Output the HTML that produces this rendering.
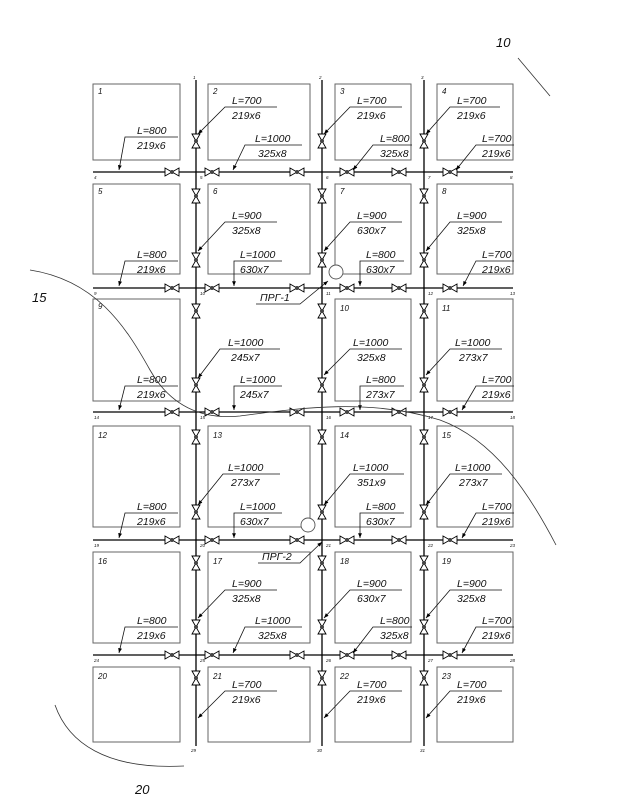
<!DOCTYPE html>
<html><head><meta charset="utf-8"><style>
html,body{margin:0;padding:0;background:#fff}
svg{display:block}
text{font-family:"Liberation Sans",sans-serif;font-style:italic;fill:#111}
.t{font-size:10.5px}
.n{font-size:8px}
.s{font-size:4.5px;fill:#444}
.b{fill:none;stroke:#666;stroke-width:1}
.p{stroke:#000;stroke-width:1.3}
.l{stroke:#111;stroke-width:0.8;fill:none}
</style></head><body>
<svg width="618" height="809" viewBox="0 0 618 809" xmlns="http://www.w3.org/2000/svg">
<defs>
<marker id="a" viewBox="0 0 10 10" refX="10" refY="5" markerWidth="6" markerHeight="6" orient="auto"><path d="M0 1L10 5L0 9z" fill="#000"/></marker>
<g id="vh"><path d="M-7 -4L7 4L7 -4L-7 4Z" fill="#fff" stroke="#000" stroke-width="0.9"/><circle r="2" fill="#444"/></g>
<g id="vv"><path d="M-4 -7L4 7L-4 7L4 -7Z" fill="#fff" stroke="#000" stroke-width="0.9"/><circle r="2" fill="#444"/></g>
</defs>
<!-- blocks -->
<g class="b">
<rect x="93" y="84" width="87" height="76"/><rect x="208" y="84" width="102" height="76"/><rect x="335" y="84" width="76" height="76"/><rect x="437" y="84" width="76" height="76"/>
<rect x="93" y="184" width="87" height="90"/><rect x="208" y="184" width="102" height="90"/><rect x="335" y="184" width="76" height="90"/><rect x="437" y="184" width="76" height="90"/>
<rect x="93" y="299" width="87" height="102"/><rect x="335" y="299" width="76" height="102"/><rect x="437" y="299" width="76" height="102"/>
<rect x="93" y="426" width="87" height="101"/><rect x="208" y="426" width="102" height="101"/><rect x="335" y="426" width="76" height="101"/><rect x="437" y="426" width="76" height="101"/>
<rect x="93" y="552" width="87" height="91"/><rect x="208" y="552" width="102" height="91"/><rect x="335" y="552" width="76" height="91"/><rect x="437" y="552" width="76" height="91"/>
<rect x="93" y="667" width="87" height="75"/><rect x="208" y="667" width="102" height="75"/><rect x="335" y="667" width="76" height="75"/><rect x="437" y="667" width="76" height="75"/>
</g>
<g class="n">
<text x="98" y="94">1</text><text x="213" y="94">2</text><text x="340" y="94">3</text><text x="442" y="94">4</text>
<text x="98" y="194">5</text><text x="213" y="194">6</text><text x="340" y="194">7</text><text x="442" y="194">8</text>
<text x="98" y="309">9</text><text x="340" y="311">10</text><text x="442" y="311">11</text>
<text x="98" y="438">12</text><text x="213" y="438">13</text><text x="340" y="438">14</text><text x="442" y="438">15</text>
<text x="98" y="564">16</text><text x="213" y="564">17</text><text x="340" y="564">18</text><text x="442" y="564">19</text>
<text x="98" y="679">20</text><text x="213" y="679">21</text><text x="340" y="679">22</text><text x="442" y="679">23</text>
</g>
<!-- pipes -->
<g class="p">
<line x1="196" y1="80" x2="196" y2="746"/><line x1="322" y1="80" x2="322" y2="746"/><line x1="424" y1="80" x2="424" y2="746"/>
<line x1="93" y1="172" x2="513" y2="172"/><line x1="93" y1="288" x2="513" y2="288"/><line x1="93" y1="412" x2="513" y2="412"/><line x1="93" y1="540" x2="513" y2="540"/><line x1="93" y1="655" x2="513" y2="655"/>
</g>
<g class="s">
<text x="193" y="79">1</text><text x="319" y="79">2</text><text x="421" y="79">3</text>
<text x="191" y="752">29</text><text x="317" y="752">30</text><text x="420" y="752">31</text>
<text x="94" y="179">4</text><text x="200" y="179">5</text><text x="326" y="179">6</text><text x="428" y="179">7</text><text x="510" y="179">8</text>
<text x="94" y="295">9</text><text x="200" y="295">10</text><text x="326" y="295">11</text><text x="428" y="295">12</text><text x="510" y="295">13</text>
<text x="94" y="419">14</text><text x="200" y="419">15</text><text x="326" y="419">16</text><text x="428" y="419">17</text><text x="510" y="419">18</text>
<text x="94" y="547">19</text><text x="200" y="547">20</text><text x="326" y="547">21</text><text x="428" y="547">22</text><text x="510" y="547">23</text>
<text x="94" y="662">24</text><text x="200" y="662">25</text><text x="326" y="662">26</text><text x="428" y="662">27</text><text x="510" y="662">28</text>
</g>
<!-- horizontal valves -->
<g>
<use href="#vh" x="172" y="172"/><use href="#vh" x="212" y="172"/><use href="#vh" x="297" y="172"/><use href="#vh" x="347" y="172"/><use href="#vh" x="399" y="172"/><use href="#vh" x="450" y="172"/>
<use href="#vh" x="172" y="288"/><use href="#vh" x="212" y="288"/><use href="#vh" x="297" y="288"/><use href="#vh" x="347" y="288"/><use href="#vh" x="399" y="288"/><use href="#vh" x="450" y="288"/>
<use href="#vh" x="172" y="412"/><use href="#vh" x="212" y="412"/><use href="#vh" x="297" y="412"/><use href="#vh" x="347" y="412"/><use href="#vh" x="399" y="412"/><use href="#vh" x="450" y="412"/>
<use href="#vh" x="172" y="540"/><use href="#vh" x="212" y="540"/><use href="#vh" x="297" y="540"/><use href="#vh" x="347" y="540"/><use href="#vh" x="399" y="540"/><use href="#vh" x="450" y="540"/>
<use href="#vh" x="172" y="655"/><use href="#vh" x="212" y="655"/><use href="#vh" x="297" y="655"/><use href="#vh" x="347" y="655"/><use href="#vh" x="399" y="655"/><use href="#vh" x="450" y="655"/>
</g>
<!-- vertical valves -->
<g>
<use href="#vv" x="196" y="141"/><use href="#vv" x="196" y="196"/><use href="#vv" x="196" y="260"/><use href="#vv" x="196" y="311"/><use href="#vv" x="196" y="385"/><use href="#vv" x="196" y="437"/><use href="#vv" x="196" y="512"/><use href="#vv" x="196" y="563"/><use href="#vv" x="196" y="627"/><use href="#vv" x="196" y="678"/>
<use href="#vv" x="322" y="141"/><use href="#vv" x="322" y="196"/><use href="#vv" x="322" y="260"/><use href="#vv" x="322" y="311"/><use href="#vv" x="322" y="385"/><use href="#vv" x="322" y="437"/><use href="#vv" x="322" y="512"/><use href="#vv" x="322" y="563"/><use href="#vv" x="322" y="627"/><use href="#vv" x="322" y="678"/>
<use href="#vv" x="424" y="141"/><use href="#vv" x="424" y="196"/><use href="#vv" x="424" y="260"/><use href="#vv" x="424" y="311"/><use href="#vv" x="424" y="385"/><use href="#vv" x="424" y="437"/><use href="#vv" x="424" y="512"/><use href="#vv" x="424" y="563"/><use href="#vv" x="424" y="627"/><use href="#vv" x="424" y="678"/>
</g>
<!-- labels -->
<g class="l" marker-end="url(#a)">
<polyline points="178,137 125,137 119,170"/>
<polyline points="277,107 225,107 198,134"/>
<polyline points="302,145 245,145 233,170"/>
<polyline points="402,107 350,107 324,134"/>
<polyline points="412,145 373,145 353,170"/>
<polyline points="500,107 450,107 426,134"/>
<polyline points="514,145 476,145 456,170"/>

<polyline points="178,261 125,261 119,286"/>
<polyline points="277,222 225,222 198,251"/>
<polyline points="282,261 234,261 234,286"/>
<polyline points="402,222 350,222 324,251"/>
<polyline points="404,261 360,261 360,286"/>
<polyline points="502,222 450,222 426,251"/>
<polyline points="514,261 476,261 463,286"/>

<polyline points="178,386 125,386 119,410"/>
<polyline points="280,349 220,349 198,378"/>
<polyline points="282,386 234,386 234,410"/>
<polyline points="402,349 350,349 324,375"/>
<polyline points="404,386 360,386 360,410"/>
<polyline points="502,349 450,349 426,375"/>
<polyline points="514,386 476,386 462,410"/>

<polyline points="178,513 125,513 119,538"/>
<polyline points="280,474 223,474 198,505"/>
<polyline points="282,513 234,513 234,538"/>
<polyline points="404,474 350,474 324,505"/>
<polyline points="404,513 360,513 360,538"/>
<polyline points="502,474 450,474 426,505"/>
<polyline points="514,513 476,513 462,538"/>

<polyline points="178,627 125,627 119,653"/>
<polyline points="277,590 225,590 198,618"/>
<polyline points="302,627 245,627 233,653"/>
<polyline points="402,590 350,590 324,618"/>
<polyline points="412,627 373,627 353,653"/>
<polyline points="502,590 450,590 426,618"/>
<polyline points="514,627 476,627 462,653"/>

<polyline points="277,691 225,691 198,718"/>
<polyline points="402,691 350,691 324,718"/>
<polyline points="502,691 450,691 426,718"/>

<polyline points="256,304 300,304 328,281"/>
<polyline points="258,563 300,563 322,542"/>
</g>
<g class="t">
<text x="137" y="134">L=800</text><text x="137" y="149">219x6</text>
<text x="232" y="104">L=700</text><text x="232" y="119">219x6</text>
<text x="255" y="142">L=1000</text><text x="258" y="157">325x8</text>
<text x="357" y="104">L=700</text><text x="357" y="119">219x6</text>
<text x="380" y="142">L=800</text><text x="380" y="157">325x8</text>
<text x="457" y="104">L=700</text><text x="457" y="119">219x6</text>
<text x="482" y="142">L=700</text><text x="482" y="157">219x6</text>

<text x="137" y="258">L=800</text><text x="137" y="273">219x6</text>
<text x="232" y="219">L=900</text><text x="232" y="234">325x8</text>
<text x="240" y="258">L=1000</text><text x="240" y="273">630x7</text>
<text x="357" y="219">L=900</text><text x="357" y="234">630x7</text>
<text x="366" y="258">L=800</text><text x="366" y="273">630x7</text>
<text x="457" y="219">L=900</text><text x="457" y="234">325x8</text>
<text x="482" y="258">L=700</text><text x="482" y="273">219x6</text>

<text x="137" y="383">L=800</text><text x="137" y="398">219x6</text>
<text x="228" y="346">L=1000</text><text x="231" y="361">245x7</text>
<text x="240" y="383">L=1000</text><text x="240" y="398">245x7</text>
<text x="353" y="346">L=1000</text><text x="357" y="361">325x8</text>
<text x="366" y="383">L=800</text><text x="366" y="398">273x7</text>
<text x="455" y="346">L=1000</text><text x="459" y="361">273x7</text>
<text x="482" y="383">L=700</text><text x="482" y="398">219x6</text>

<text x="137" y="510">L=800</text><text x="137" y="525">219x6</text>
<text x="228" y="471">L=1000</text><text x="231" y="486">273x7</text>
<text x="240" y="510">L=1000</text><text x="240" y="525">630x7</text>
<text x="353" y="471">L=1000</text><text x="357" y="486">351x9</text>
<text x="366" y="510">L=800</text><text x="366" y="525">630x7</text>
<text x="455" y="471">L=1000</text><text x="459" y="486">273x7</text>
<text x="482" y="510">L=700</text><text x="482" y="525">219x6</text>

<text x="137" y="624">L=800</text><text x="137" y="639">219x6</text>
<text x="232" y="587">L=900</text><text x="232" y="602">325x8</text>
<text x="255" y="624">L=1000</text><text x="258" y="639">325x8</text>
<text x="357" y="587">L=900</text><text x="357" y="602">630x7</text>
<text x="380" y="624">L=800</text><text x="380" y="639">325x8</text>
<text x="457" y="587">L=900</text><text x="457" y="602">325x8</text>
<text x="482" y="624">L=700</text><text x="482" y="639">219x6</text>

<text x="232" y="688">L=700</text><text x="232" y="703">219x6</text>
<text x="357" y="688">L=700</text><text x="357" y="703">219x6</text>
<text x="457" y="688">L=700</text><text x="457" y="703">219x6</text>

<text x="260" y="301">ПРГ-1</text>
<text x="262" y="560">ПРГ-2</text>
</g>
<circle cx="336" cy="272" r="7" fill="#fff" stroke="#555" stroke-width="0.9"/>
<circle cx="308" cy="525" r="7" fill="#fff" stroke="#555" stroke-width="0.9"/>
<!-- region curves -->
<g fill="none" stroke="#333" stroke-width="0.8">
<line x1="518" y1="58" x2="550" y2="96"/>
<path d="M30 270 C95 280 125 325 150 370 C170 405 200 420 240 416 C300 408 370 398 440 420 C495 440 530 495 556 545"/>
<path d="M55 705 C68 742 105 770 184 766"/>
</g>
<g style="font-size:13px">
<text x="496" y="47">10</text>
<text x="32" y="302">15</text>
<text x="135" y="794">20</text>
</g>
</svg>
</body></html>
